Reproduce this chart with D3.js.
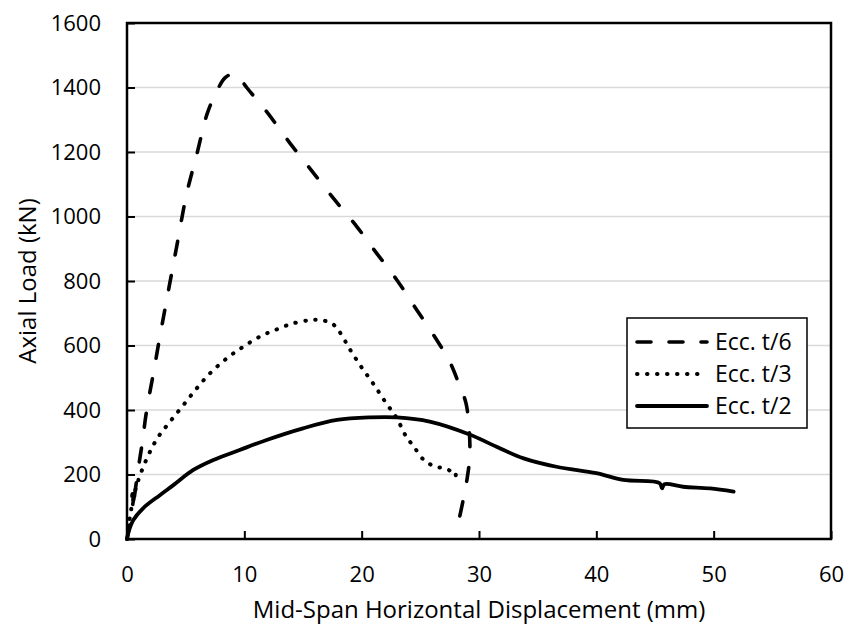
<!DOCTYPE html>
<html>
<head>
<meta charset="utf-8">
<script src="https://cdn.jsdelivr.net/npm/d3@7"></script>
<style>
  body { margin: 0; background: #fff; }
  text { font-family: "Open Sans", sans-serif; fill: #000; }
</style>
</head>
<body>
<svg id="chart" width="848" height="633"></svg>
<script>
// displacement (mm), load (kN)
const eccT6 = [[0,0],[0.25,50],[0.5,110],[0.6,135],[0.45,140],[0.5,100],[0.7,150],[0.94,214],[1.25,286],[1.68,400],[2.25,514],[2.8,627],[3.38,741],[4.2,900],[5.1,1073],[5.94,1191],[6.8,1315],[7.5,1377],[8.35,1430],[9.0,1442],[9.4,1438],[10.2,1400],[11.9,1325],[13.9,1227],[15.7,1144],[17.6,1056],[19.6,968],[21.3,885],[23.0,803],[24.7,710],[26.4,617],[27.5,550],[28.3,480],[28.9,420],[29.2,317],[29.2,250],[29.0,190],[28.7,130],[28.3,60]];
const eccT3 = [[0,0],[0.3,80],[0.83,167],[1.82,260],[2.67,317],[3.67,364],[4.8,415],[5.94,467],[7.08,514],[8.5,560],[9.9,596],[11.6,633],[12.3,643],[14.0,667],[15.7,679],[16.6,678],[17.45,669],[18.1,643],[19.0,588],[20.0,532],[21.0,481],[22.0,426],[23.0,374],[23.8,317],[24.4,289],[25.3,245],[26.3,224],[27.1,219],[27.8,205],[28.0,195],[28.0,215]];
const eccT2 = [[0,0],[0.2,30],[0.54,59],[1.39,96],[2.8,136],[3.95,167],[5.65,214],[7.36,245],[9.6,276],[11.9,307],[15.0,343],[17.9,369],[20.7,377],[23.0,377],[25.8,364],[29.2,324],[31.5,286],[33.8,250],[36.6,224],[40.0,204],[42.3,183],[45.4,173],[45.6,157],[45.8,170],[47.4,162],[49.7,157],[51.7,147]];

const seriesNames = ["Ecc. t/6", "Ecc. t/3", "Ecc. t/2"];
const xTicks = [0, 10, 20, 30, 40, 50, 60];
const yTicks = [0, 200, 400, 600, 800, 1000, 1200, 1400, 1600];

const margin = { top: 23, right: 17, bottom: 94, left: 127 };
const width = 848 - margin.left - margin.right;
const height = 633 - margin.top - margin.bottom;

const styles = [
  { dash: "14,21", cap: "round", w: 3.6 },
  { dash: "0.5,9.5", cap: "round", w: 4 },
  { dash: null, cap: "round", w: 3.8 }
];

const svg = d3.select("#chart");
const g = svg.append("g").attr("transform", `translate(${margin.left},${margin.top})`);

const x = d3.scaleLinear().domain([0, 60]).range([0, width]);
const y = d3.scaleLinear().domain([0, 1600]).range([height, 0]);

// gridlines
g.append("g")
  .selectAll("line")
  .data(yTicks.slice(1, -1))
  .join("line")
  .attr("x1", 0).attr("x2", width)
  .attr("y1", d => y(d)).attr("y2", d => y(d))
  .attr("stroke", "#d9d9d9")
  .attr("stroke-width", 1.5);

// axes, ticks inside
const xAxis = g.append("g")
  .attr("transform", `translate(0,${height})`)
  .call(d3.axisBottom(x).tickValues(xTicks).tickFormat(d3.format("d")).tickSizeInner(-8).tickSizeOuter(0).tickPadding(27));
const yAxis = g.append("g")
  .call(d3.axisLeft(y).tickValues(yTicks).tickFormat(d3.format("d")).tickSizeInner(-8).tickSizeOuter(0).tickPadding(26));

[xAxis, yAxis].forEach(ax => {
  ax.select(".domain").remove();
  ax.selectAll("line").attr("stroke", "#000").attr("stroke-width", 2);
  ax.selectAll("text").style("font-size", "22px").style("font-family", "Open Sans");
});

// curves
const line = d3.line()
  .x(d => x(d[0]))
  .y(d => y(d[1]))
  .curve(d3.curveCatmullRom.alpha(0.5));

const plotData = [eccT6, eccT3, eccT2];
g.append("g")
  .selectAll("path")
  .data(plotData)
  .join("path")
  .attr("d", line)
  .attr("fill", "none")
  .attr("stroke", "#000")
  .attr("stroke-width", (d, i) => styles[i].w)
  .attr("stroke-linecap", (d, i) => styles[i].cap)
  .attr("stroke-linejoin", "round")
  .attr("stroke-dasharray", (d, i) => styles[i].dash);

// plot frame
g.append("rect")
  .attr("width", width).attr("height", height)
  .attr("fill", "none")
  .attr("stroke", "#000")
  .attr("stroke-width", 2.5);

// axis titles
svg.append("text")
  .attr("x", margin.left + width / 2)
  .attr("y", 618)
  .attr("text-anchor", "middle")
  .style("font-size", "24px")
  .text("Mid-Span Horizontal Displacement (mm)");

svg.append("text")
  .attr("transform", `translate(36,${margin.top + height / 2}) rotate(-90)`)
  .attr("text-anchor", "middle")
  .style("font-size", "24px")
  .text("Axial Load (kN)");

// legend
const legend = svg.append("g").attr("transform", "translate(627,318)");
legend.append("rect")
  .attr("width", 180).attr("height", 110)
  .attr("fill", "#fff")
  .attr("stroke", "#000")
  .attr("stroke-width", 1.5);

const items = legend.selectAll("g.item")
  .data(seriesNames)
  .join("g")
  .attr("class", "item")
  .attr("transform", (d, i) => `translate(0,${24 + i * 32})`);

items.append("line")
  .attr("x1", 10).attr("x2", 80)
  .attr("stroke", "#000")
  .attr("stroke-width", (d, i) => styles[i].w)
  .attr("stroke-linecap", (d, i) => styles[i].cap)
  .attr("stroke-dasharray", (d, i) => i === 0 ? "14,18" : styles[i].dash);

items.append("text")
  .attr("x", 88)
  .attr("dy", "0.35em")
  .style("font-size", "23px")
  .text(d => d);
</script>
</body>
</html>
